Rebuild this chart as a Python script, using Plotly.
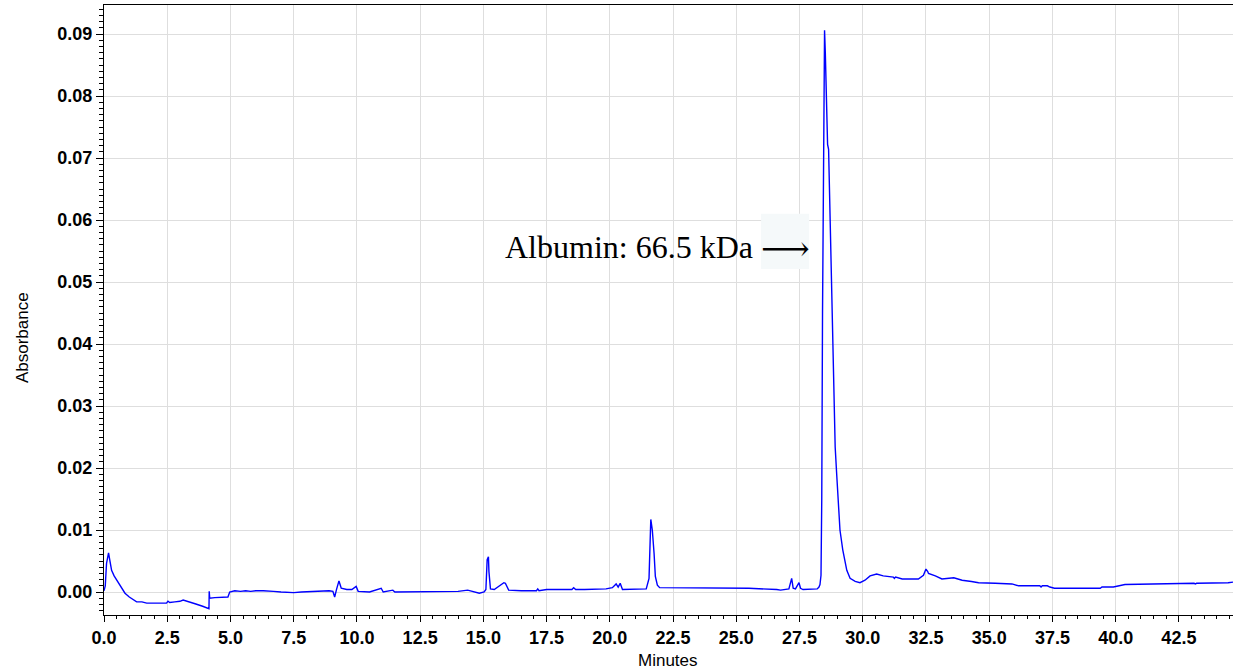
import plotly.graph_objects as go

# Retention time (minutes) and absorbance
minutes = [
    0.00, 0.05, 0.10, 0.15, 0.18, 0.21, 0.25, 0.30, 0.40, 0.50, 0.65, 0.83, 1.00, 1.16, 1.29,
    1.50, 1.69, 2.00, 2.47, 2.53, 2.60, 2.80, 3.00, 3.13, 3.26, 3.60, 3.90, 4.12, 4.15, 4.16,
    4.18, 4.38, 4.90, 4.97, 5.17, 5.40, 5.60, 5.80, 6.00, 6.30, 6.55, 6.70, 7.00, 7.50, 7.80,
    8.50, 8.90, 9.05, 9.12, 9.20, 9.29, 9.35, 9.38, 9.60, 9.80, 9.97, 10.05, 10.50, 10.96, 11.04,
    11.42, 11.50, 12.50, 13.60, 14.00, 14.38, 14.60, 14.84, 15.03, 15.10, 15.15, 15.20, 15.22,
    15.28, 15.43, 15.63, 15.81, 15.87, 16.00, 16.50, 17.10, 17.15, 17.20, 17.50, 18.50, 18.57,
    18.65, 19.00, 19.85, 20.10, 20.25, 20.33, 20.41, 20.50, 21.10, 21.44, 21.55, 21.62, 21.68,
    21.71, 21.75, 21.80, 21.88, 21.97, 24.00, 24.80, 25.50, 26.60, 26.75, 27.08, 27.19, 27.25,
    27.34, 27.48, 27.54, 27.64, 27.96, 28.20, 28.27, 28.31, 28.35, 28.38, 28.41, 28.45, 28.49,
    28.52, 28.57, 28.61, 28.65, 28.70, 28.74, 28.79, 28.84, 28.87, 28.91, 28.97, 29.05, 29.10,
    29.21, 29.37, 29.50, 29.70, 29.89, 30.09, 30.29, 30.55, 30.81, 31.00, 31.21, 31.25, 31.30,
    31.56, 32.20, 32.40, 32.50, 32.57, 32.60, 32.87, 33.13, 33.60, 33.93, 34.30, 34.58, 35.24,
    35.90, 36.16, 37.00, 37.05, 37.10, 37.30, 37.40, 37.58, 39.39, 39.46, 39.91, 40.37, 42.21,
    42.25, 43.10, 43.15, 43.20, 44.45, 44.64,
]
absorbance = [
    0.0002, 0.0010, 0.0046, 0.0062, 0.0063, 0.0056, 0.0045, 0.0035, 0.0026, 0.0019, 0.0009, -0.0002, -0.0008, -0.0013, -0.0016,
    -0.0016, -0.0018, -0.0018, -0.0018, -0.0015, -0.0017, -0.0016, -0.0015, -0.0013, -0.0015, -0.0019, -0.0023, -0.0027, -0.0027, 0.0001,
    -0.0010, -0.0009, -0.0008, 0.0000, 0.0002, 0.0001, 0.0002, 0.0001, 0.0002, 0.0002, 0.0002, 0.0001, 0.0000, -0.0001, 0.0000,
    0.0002, 0.0002, 0.0001, -0.0008, 0.0005, 0.0018, 0.0010, 0.0006, 0.0004, 0.0004, 0.0009, 0.0001, 0.0000, 0.0006, 0.0000,
    0.0003, 0.0000, 0.0000, 0.0001, 0.0001, 0.0003, 0.0001, -0.0002, 0.0000, 0.0004, 0.0052, 0.0057, 0.0033,
    0.0005, 0.0004, 0.0010, 0.0015, 0.0014, 0.0003, 0.0002, 0.0002, 0.0005, 0.0002, 0.0004, 0.0004, 0.0007,
    0.0004, 0.0004, 0.0005, 0.0007, 0.0013, 0.0008, 0.0014, 0.0004, 0.0005, 0.0005, 0.0022, 0.0117, 0.0100,
    0.0073, 0.0062, 0.0025, 0.0011, 0.0007, 0.0007, 0.0006, 0.0006, 0.0004, 0.0003, 0.0005, 0.0022, 0.0006,
    0.0005, 0.0015, 0.0006, 0.0004, 0.0005, 0.0005, 0.0008, 0.0012, 0.0027, 0.0150, 0.0450, 0.0800, 0.0906,
    0.0870, 0.0800, 0.0722, 0.0714, 0.0623, 0.0550, 0.0468, 0.0375, 0.0304, 0.0234, 0.0190, 0.0125, 0.0100,
    0.0068, 0.0035, 0.0022, 0.0017, 0.0015, 0.0019, 0.0026, 0.0029, 0.0026, 0.0025, 0.0024, 0.0022, 0.0024,
    0.0021, 0.0021, 0.0027, 0.0037, 0.0033, 0.0030, 0.0026, 0.0021, 0.0023, 0.0019, 0.0017, 0.0015, 0.0014,
    0.0013, 0.0010, 0.0010, 0.0008, 0.0010, 0.0010, 0.0008, 0.0006, 0.0006, 0.0008, 0.0008, 0.0012, 0.0013,
    0.0014, 0.0014, 0.0013, 0.0014, 0.0015, 0.0016,
]

x_tick_vals = [0.0, 2.5, 5.0, 7.5, 10.0, 12.5, 15.0, 17.5, 20.0, 22.5, 25.0, 27.5, 30.0, 32.5, 35.0, 37.5, 40.0, 42.5]
y_tick_vals = [0.00, 0.01, 0.02, 0.03, 0.04, 0.05, 0.06, 0.07, 0.08, 0.09]

label_text = "Albumin: 66.5 kDa"
x_title = "Minutes"
y_title = "Absorbance"

fig = go.Figure()
fig.add_trace(go.Scatter(
    x=minutes, y=absorbance, mode="lines",
    line=dict(color="#0000ff", width=1.4),
    showlegend=False, hoverinfo="skip",
))

tickfont = dict(family="Liberation Sans, Arial, sans-serif", size=18, color="black", weight="bold")

fig.update_layout(
    width=1233, height=672,
    margin=dict(l=104, r=0, t=5, b=57),
    paper_bgcolor="white", plot_bgcolor="white",
    xaxis=dict(
        range=[0, 44.64], tickvals=x_tick_vals,
        ticktext=[f"{v:.1f}" for v in x_tick_vals],
        showgrid=True, gridcolor="#dedede", gridwidth=1,
        zeroline=False, showline=True, linecolor="black", linewidth=1, mirror=True,
        ticks="outside", ticklen=6, tickcolor="black", tickfont=tickfont,
        minor=dict(dtick=0.5, tick0=0, ticks="outside", ticklen=3, tickcolor="black", showgrid=False),
    ),
    yaxis=dict(
        range=[-0.00371, 0.09468], tickvals=y_tick_vals,
        ticktext=[f"{v:.2f}" for v in y_tick_vals],
        showgrid=True, gridcolor="#dedede", gridwidth=1,
        zeroline=False, showline=True, linecolor="black", linewidth=1,
        ticks="outside", ticklen=7, tickcolor="black", tickfont=tickfont,
        minor=dict(dtick=0.001, tick0=0, ticks="outside", ticklen=4, tickcolor="black", showgrid=False),
    ),
)

# light box behind the arrow
fig.add_shape(type="rect", xref="x", yref="y", x0=25.98, x1=27.88, y0=0.0521, y1=0.0610,
              fillcolor="#f5f9fa", line=dict(width=0), layer="above")

fig.add_annotation(x=25.74, y=0.0556, xref="x", yref="y", text=label_text, showarrow=False,
                   xanchor="right", yanchor="middle",
                   font=dict(family="Liberation Serif, Times New Roman, serif", size=32, color="black"))
fig.add_annotation(x=26.93, y=0.0555, xref="x", yref="y", text="⟶", showarrow=False,
                   xanchor="center", yanchor="middle",
                   font=dict(family="DejaVu Serif, serif", size=34, color="black"))

axis_font = dict(family="Liberation Sans, Arial, sans-serif", size=17, color="black")
fig.add_annotation(x=0.4996, y=-0.0738, xref="paper", yref="paper", text=x_title, showarrow=False,
                   xanchor="center", yanchor="middle", font=axis_font)
fig.add_annotation(x=-0.0726, y=0.454, xref="paper", yref="paper", text=y_title, showarrow=False,
                   textangle=-90, xanchor="center", yanchor="middle", font=axis_font)

fig.write_html("out.html", config={"displayModeBar": False},
               post_script="document.body.style.margin='0';")
